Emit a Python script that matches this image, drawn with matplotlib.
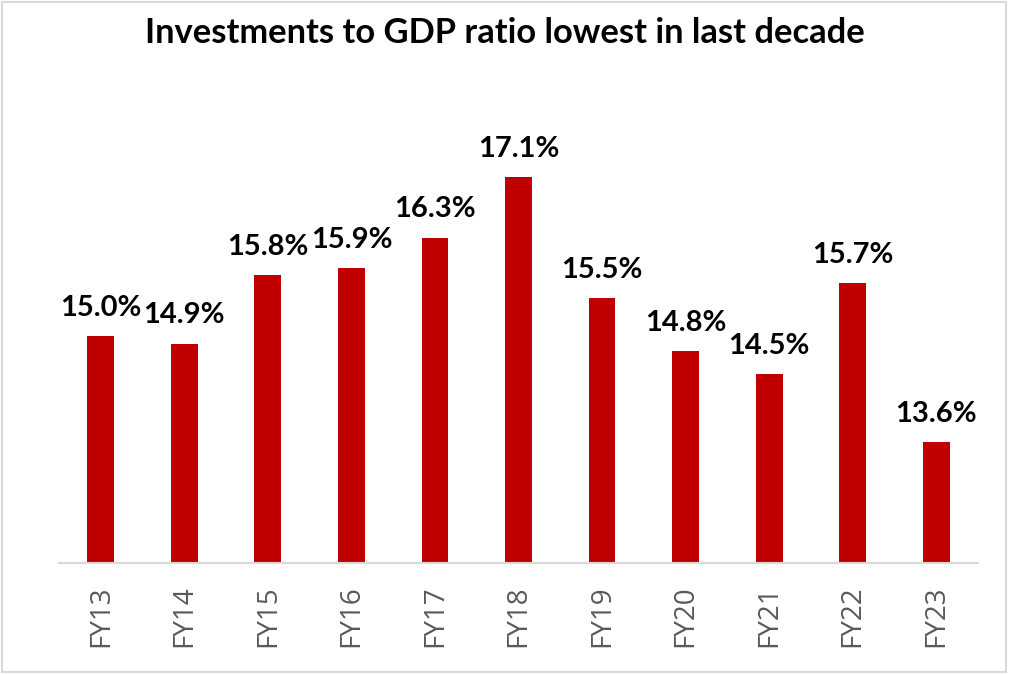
import matplotlib
matplotlib.use("Agg")
import matplotlib.pyplot as plt
from matplotlib.patches import Rectangle

categories = ["FY13", "FY14", "FY15", "FY16", "FY17", "FY18", "FY19", "FY20", "FY21", "FY22", "FY23"]
values = [15.0, 14.9, 15.8, 15.9, 16.3, 17.1, 15.5, 14.8, 14.5, 15.7, 13.6]
title = "Investments to GDP ratio lowest in last decade"

fam = ["Lato", "DejaVu Sans"]

fig = plt.figure(figsize=(10.09, 6.74), dpi=100)
ax = fig.add_axes([59/1009, 1 - 563/674, 919/1009, 454/674])

x = list(range(len(categories)))
ax.bar(x, values, width=0.32, color="#C00000", bottom=0)
ax.set_xlim(-0.5, len(categories) - 0.5)
ax.set_ylim(12, 18)

for xi, v in zip(x, values):
    ax.annotate(f"{v:.1f}%", (xi, v), xytext=(0, 14.5), textcoords="offset points",
                ha="center", va="baseline", fontsize=21, fontweight="bold",
                family=fam, color="black")

for s in ["top", "right", "left"]:
    ax.spines[s].set_visible(False)
ax.spines["bottom"].set_color("#D9D9D9")
ax.spines["bottom"].set_linewidth(1.5)
ax.set_yticks([])
ax.set_xticks(x)
ax.set_xticklabels(categories, rotation=90, fontsize=20, color="#595959", family=["Open Sans", "DejaVu Sans"])
ax.tick_params(axis="x", length=0, pad=16)

fig.text(0.5, 1 - 33/674, title, ha="center", va="center", fontsize=24.8, fontweight="bold", family=fam)

fig.patches.append(Rectangle((0.002, 0.003), 0.995, 0.994, transform=fig.transFigure,
                             fill=False, edgecolor="#D9D9D9", linewidth=1.5))

fig.savefig("out.png", dpi=100)
